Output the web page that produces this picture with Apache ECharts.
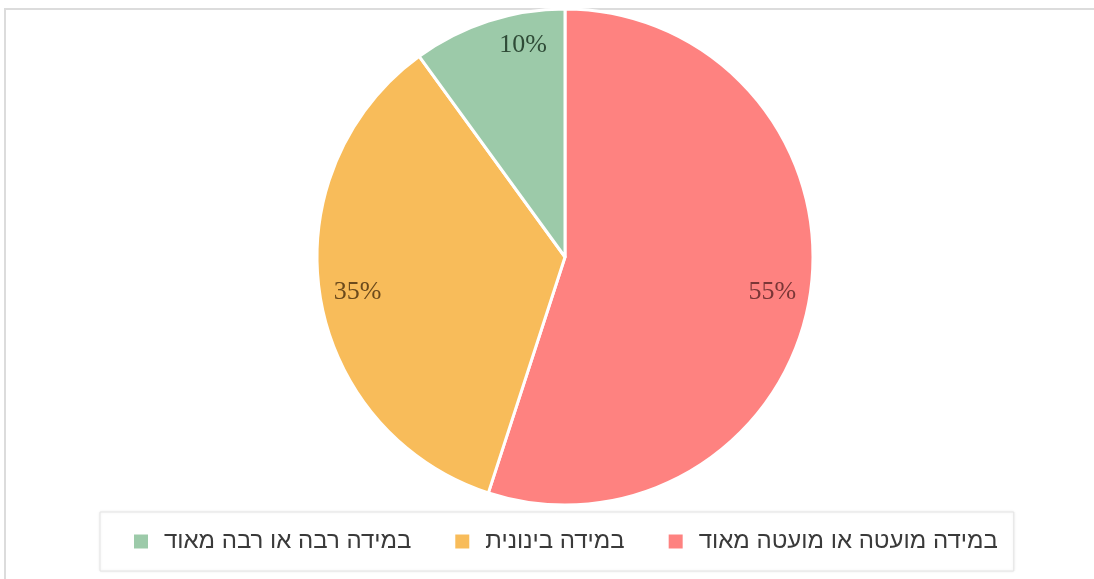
<!DOCTYPE html>
<html>
<head>
<meta charset="utf-8">
<script src="https://cdn.jsdelivr.net/npm/echarts@6/dist/echarts.min.js"></script>
<style>
  html, body { margin: 0; padding: 0; background: #ffffff; }
  #wrap { position: relative; width: 1094px; height: 579px; overflow: hidden; background: #fff; }
  #frame { position: absolute; left: 4px; top: 8px; width: 1200px; height: 700px;
           border-left: 2px solid #dcdcdc; border-top: 2px solid #dcdcdc; box-sizing: border-box; }
  #chart { position: absolute; left: 0; top: 0; width: 1094px; height: 579px; }
</style>
</head>
<body>
<div id="wrap">
  <div id="frame"></div>
  <div id="chart"></div>
</div>
<script>
const categories = ['במידה מועטה או מועטה מאוד', 'במידה בינונית', 'במידה רבה או רבה מאוד'];
const values = [55, 35, 10];
const legendOrder = ['במידה רבה או רבה מאוד', 'במידה בינונית', 'במידה מועטה או מועטה מאוד'];
const colors = ['#fe8280', '#f8bc5a', '#9ccaa9'];
const labelColors = ['#7a3636', '#6b4a1c', '#2f4b37'];

const chart = echarts.init(document.getElementById('chart'), null, { renderer: 'canvas' });

const pieData = categories.map((c, i) => ({
  name: c, value: values[i], itemStyle: { color: colors[i] }
}));
const labelData = categories.map((c, i) => ({
  name: c, value: values[i],
  label: { color: labelColors[i], offset: i === 2 ? [23, -12] : [0, 2] }
}));

chart.setOption({
  animation: false,
  backgroundColor: 'transparent',
  legend: {
    data: legendOrder,
    left: 100,
    top: 512,
    orient: 'horizontal',
    icon: 'rect',
    itemWidth: 16,
    itemHeight: 16,
    itemGap: 42,
    padding: [17, 16, 17, 32],
    backgroundColor: '#ffffff',
    borderColor: '#e4e4e4',
    borderWidth: 1,
    shadowColor: 'rgba(0,0,0,0.08)',
    shadowBlur: 3,
    selectedMode: false,
    textStyle: {
      fontFamily: 'Liberation Sans',
      fontSize: 24,
      color: '#3a3a3a',
      lineHeight: 25,
      padding: [0, 0, 0, 10]
    }
  },
  series: [
    {
      type: 'pie',
      center: [565, 257],
      radius: 248,
      startAngle: 90,
      clockwise: true,
      silent: true,
      itemStyle: { borderColor: '#ffffff', borderWidth: 3 },
      label: { show: false },
      labelLine: { show: false },
      data: pieData
    },
    {
      type: 'pie',
      center: [565, 257],
      radius: [166, 248],
      startAngle: 90,
      clockwise: true,
      silent: true,
      legendHoverLink: false,
      itemStyle: { color: 'rgba(0,0,0,0)', borderWidth: 0 },
      label: {
        show: true,
        position: 'inside',
        formatter: '{c}%',
        fontFamily: 'Liberation Serif',
        fontSize: 26
      },
      labelLine: { show: false },
      data: labelData
    }
  ]
});
</script>
</body>
</html>
